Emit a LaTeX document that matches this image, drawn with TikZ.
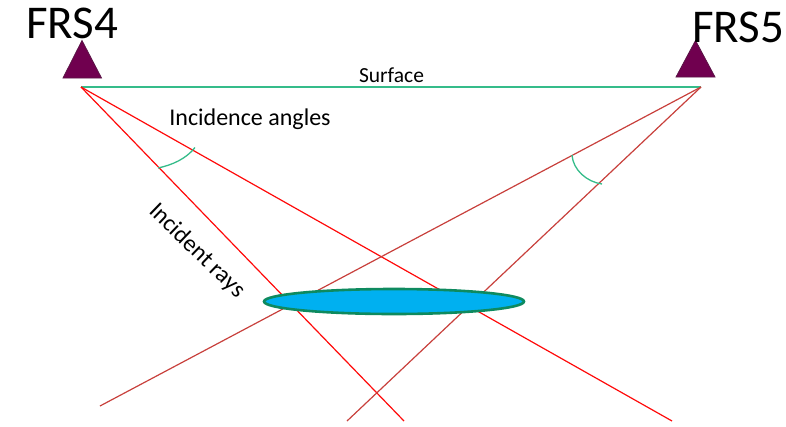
\documentclass[tikz,border=0pt]{standalone}
\usepackage{fontspec}
\setmainfont{Carlito}
\definecolor{tri}{HTML}{70004F}
\definecolor{triedge}{HTML}{5A1546}
\definecolor{surf}{HTML}{35BC8A}
\definecolor{rayA}{HTML}{FF0A0A}
\definecolor{rayB}{HTML}{C8403C}
\definecolor{lens}{HTML}{00B0F0}
\definecolor{lensedge}{HTML}{0E8A5F}
\tikzset{
  txt/.style={inner sep=0pt,text=black},
  station/.style={fill=tri,draw=triedge,line width=0.8pt,line join=miter},
  rayone/.style={rayA,line width=1.2pt},
  raytwo/.style={rayB,line width=1.2pt},
  anglearc/.style={surf,line width=1.3pt}
}
\begin{document}
\begin{tikzpicture}[x=1pt,y=-1pt]
\useasboundingbox (0,0) rectangle (786,426);
\coordinate (s4) at (81,87);
\coordinate (s5) at (701,87);
\coordinate (e1) at (404,421);
\coordinate (e2) at (672,421);
\coordinate (e3) at (100,406);
\coordinate (e4) at (347,421);
\draw[station] (82,40.5) -- (101.5,78) -- (63,78) -- cycle;
\draw[station] (695.5,40.5) -- (715,77) -- (676,77) -- cycle;
\draw[surf,line width=1.3pt] (s4) -- (s5);
\draw[rayone] (s4) -- (e1);
\draw[rayone] (s4) -- (e2);
\draw[raytwo] (s5) -- (e3);
\draw[raytwo] (s5) -- (e4);
\draw[anglearc] (158,168) .. controls (172,165) and (186,159) .. (195,147.5);
\draw[anglearc] (572,155) .. controls (573,170) and (587,182) .. (602,184);
\draw[fill=lens,draw=lensedge,line width=2.6pt] (394,301.5) ellipse [x radius=130,y radius=12.5];
\node[txt,font=\fontsize{47}{47}\selectfont] (frs4) at (72,23) {FRS4};
\node[txt,font=\fontsize{47}{47}\selectfont] (frs5) at (738,27) {FRS5};
\node[txt,font=\fontsize{21.5}{21.5}\selectfont] (surface) at (391.5,75) {Surface};
\node[txt,font=\fontsize{24}{24}\selectfont] (angles) at (250,119) {Incidence angles};
\node[txt,font=\fontsize{24}{24}\selectfont,rotate=-44] (rays) at (197,251) {Incident rays};
\end{tikzpicture}
\end{document}
